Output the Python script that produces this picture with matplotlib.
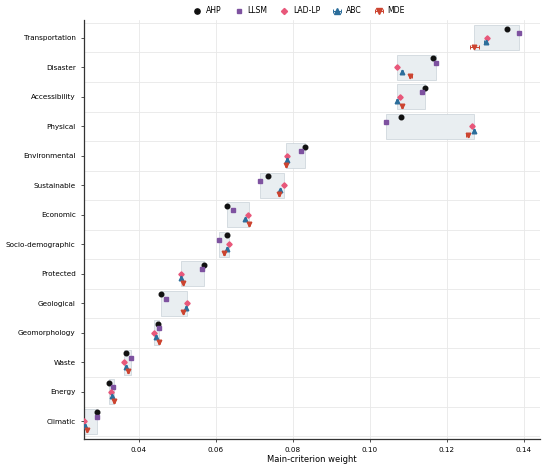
import matplotlib
matplotlib.use("Agg")
import matplotlib.pyplot as plt
from matplotlib.patches import Rectangle
import numpy as np

categories = ["Transportation", "Disaster", "Accessibility", "Physical", "Environmental",
              "Sustainable", "Economic", "Socio-demographic", "Protected", "Geological",
              "Geomorphology", "Waste", "Energy", "Climatic"]

ahp   = [0.1355, 0.1164, 0.1142, 0.1081, 0.0833, 0.0736, 0.0628, 0.0628, 0.0570, 0.0459, 0.0450, 0.0367, 0.0323, 0.0292]
llsm  = [0.1388, 0.1173, 0.1136, 0.1043, 0.0822, 0.0716, 0.0645, 0.0609, 0.0565, 0.0471, 0.0454, 0.0381, 0.0334, 0.0291]
ladlp = [0.1303, 0.1070, 0.1079, 0.1265, 0.0786, 0.0778, 0.0684, 0.0634, 0.0511, 0.0526, 0.0441, 0.0362, 0.0329, 0.0259]
abc   = [0.1301, 0.1084, 0.1071, 0.1270, 0.0785, 0.0768, 0.0677, 0.0629, 0.0509, 0.0523, 0.0445, 0.0367, 0.0330, 0.0261]
abc_err = [0.0004, 0.0003, 0.0003, 0.0003, 0.0002, 0.0002, 0.0002, 0.0002, 0.0002, 0.0002, 0.0002, 0.0002, 0.0002, 0.0002]
mde   = [0.1271, 0.1105, 0.1084, 0.1254, 0.0783, 0.0764, 0.0686, 0.0621, 0.0516, 0.0516, 0.0453, 0.0372, 0.0336, 0.0265]
mde_err = [0.0012, 0.0004, 0.0003, 0.0004, 0.0002, 0.0002, 0.0002, 0.0002, 0.0002, 0.0002, 0.0002, 0.0002, 0.0002, 0.0002]

methods = ["AHP", "LLSM", "LAD-LP", "ABC", "MDE"]
colors = {"AHP": "#111111", "LLSM": "#7e52a0", "LAD-LP": "#e8577a", "ABC": "#2c6e9b", "MDE": "#cc4430"}
offsets = {"AHP": -0.3, "LLSM": -0.15, "LAD-LP": 0.0, "ABC": 0.15, "MDE": 0.3}

plt.rcParams['font.family'] = ['DejaVu Sans']
fig = plt.figure(figsize=(5.5, 4.66), dpi=100)
ax = fig.add_axes([0.1527, 0.0579, 0.8293, 0.8991])

y = np.arange(len(categories))

# shaded range boxes
for i in range(len(categories)):
    vals = [ahp[i], llsm[i], ladlp[i], abc[i], mde[i]]
    lo, hi = min(vals), max(vals)
    ax.add_patch(Rectangle((lo, y[i] - 0.42), hi - lo, 0.84, facecolor="#e9eef1",
                           edgecolor="#c9d2d8", linewidth=0.5, zorder=1))

ms = 3.3
ax.plot(ahp, y + offsets["AHP"], 'o', color=colors["AHP"], ms=ms, label="AHP", zorder=3, linestyle='none')
ax.plot(llsm, y + offsets["LLSM"], 's', color=colors["LLSM"], ms=ms - 0.4, label="LLSM", zorder=3, linestyle='none')
ax.plot(ladlp, y + offsets["LAD-LP"], 'D', color=colors["LAD-LP"], ms=ms - 0.6, label="LAD-LP", zorder=3, linestyle='none')
ax.errorbar(abc, y + offsets["ABC"], xerr=abc_err, fmt='^', color=colors["ABC"], ms=ms, capsize=1.3,
            elinewidth=0.7, capthick=0.7, label="ABC", zorder=3)
ax.errorbar(mde, y + offsets["MDE"], xerr=mde_err, fmt='v', color=colors["MDE"], ms=ms, capsize=1.3,
            elinewidth=0.7, capthick=0.7, label="MDE", zorder=3)

ax.set_xlim(0.0258, 0.1442)
ax.set_ylim(13.6, -0.6)
ax.set_yticks(y)
ax.set_yticklabels(categories, fontsize=5.2)
ax.set_yticks(np.arange(-0.5, len(categories), 1.0), minor=True)
ax.tick_params(axis='y', which='minor', length=0)
ax.set_xticks([0.04, 0.06, 0.08, 0.10, 0.12, 0.14])
ax.set_xticklabels(["0.04", "0.06", "0.08", "0.10", "0.12", "0.14"], fontsize=5.2)
ax.tick_params(axis='both', which='major', length=2.5, width=0.6, color="#333333", pad=3.5)
ax.grid(True, axis='x', which='major', color="#e8e8e8", linewidth=0.6, zorder=0)
ax.grid(True, axis='y', which='minor', color="#e8e8e8", linewidth=0.6, zorder=0)
ax.set_axisbelow(True)
ax.set_xlabel("Main-criterion weight", fontsize=6.0, labelpad=1.5)

for s in ["top", "right"]:
    ax.spines[s].set_visible(False)
for s in ["left", "bottom"]:
    ax.spines[s].set_color("#333333")
    ax.spines[s].set_linewidth(0.9)

ax.legend(loc="lower center", bbox_to_anchor=(0.47, 1.0), ncol=5, frameon=False,
          fontsize=5.6, handletextpad=0.4, columnspacing=1.5, borderaxespad=0.2,
          handlelength=1.4, markerscale=1.15)

fig.savefig("out.png", dpi=100)
